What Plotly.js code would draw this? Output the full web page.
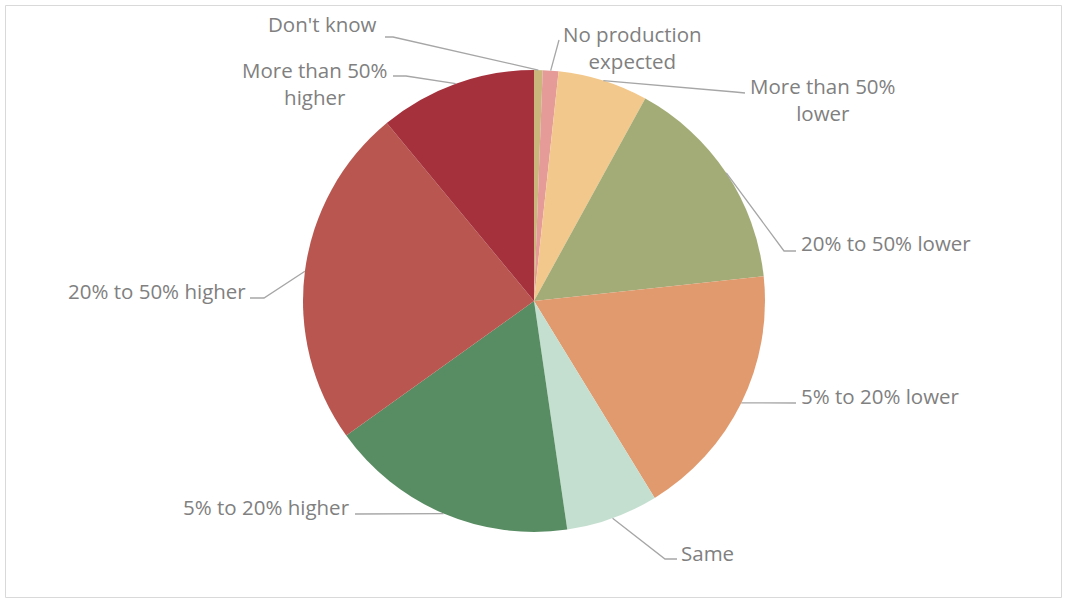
<!DOCTYPE html>
<html>
<head>
<meta charset="utf-8">
<script src="https://cdn.plot.ly/plotly-3.0.1.min.js"></script>
<style>html,body{margin:0;padding:0;background:#fff;}#chart{width:1065px;height:601px;}</style>
</head>
<body>
<div id="chart"></div>
<script>
// ---- data ----
const categories = ["Don't know", "No production expected", "More than 50% lower", "20% to 50% lower",
  "5% to 20% lower", "Same", "5% to 20% higher", "20% to 50% higher", "More than 50% higher"];
const values = [0.6, 1.1, 6.3, 15.3, 17.95, 6.45, 17.4, 23.9, 11.0];
const labelText = ["Don't know", "No production<br>expected", "More than 50%<br>lower", "20% to 50% lower",
  "5% to 20% lower", "Same", "5% to 20% higher", "20% to 50% higher", "More than 50%<br>higher"];

// ---- styles / layout (positions in pixels) ----
const colors = ["#C9B77C", "#E59C98", "#F3C88C", "#A3AB76", "#E19A6E", "#C4DFD0", "#588C62", "#B9564F", "#A5313D"];
const W = 1065, H = 601, cx = 534, cy = 301, R = 231;
// leader bends and label placement per slice
const leaderBend = [[393, 37], null, [735, 92], [784, 251], null, [665, 559], null, [264, 298], [406, 76]];
const leaderEnd = [[385, 37], [559, 40], [745, 93], [796, 251], [796, 403], [677, 559], [355, 514], [250, 298], [393, 76]];
const labelPos = [[379, 24, 'right'], [632, 47, 'center'], [823, 100, 'center'], [799, 243, 'left'],
  [799, 396, 'left'], [679, 553, 'left'], [352, 507, 'right'], [248, 291, 'right'], [315, 84, 'center']];

const fx = x => x / W, fy = y => 1 - y / H;
const total = values.reduce((a, b) => a + b, 0);

const shapes = [{
  type: 'rect', xref: 'paper', yref: 'paper', x0: fx(5.5), x1: fx(1061.5), y0: fy(5.5), y1: fy(597.5),
  line: {color: '#D9D9D9', width: 1}, fillcolor: 'rgba(0,0,0,0)'
}];
const annotations = [];
let cum = 0;
values.forEach((v, i) => {
  const mid = (cum + v / 2) / total * 2 * Math.PI;
  cum += v;
  const ax = cx + R * Math.sin(mid), ay = cy - R * Math.cos(mid);
  let path = `M ${fx(ax)},${fy(ay)}`;
  if (leaderBend[i]) path += ` L ${fx(leaderBend[i][0])},${fy(leaderBend[i][1])}`;
  path += ` L ${fx(leaderEnd[i][0])},${fy(leaderEnd[i][1])}`;
  shapes.push({type: 'path', xref: 'paper', yref: 'paper', path: path, line: {color: '#A6A6A6', width: 1.3}});
  annotations.push({
    xref: 'paper', yref: 'paper', x: fx(labelPos[i][0]), y: fy(labelPos[i][1]),
    xanchor: labelPos[i][2], yanchor: 'middle', align: 'center', showarrow: false,
    text: labelText[i], font: {family: 'Open Sans, sans-serif', size: 20.5, color: '#808080'}
  });
});

const trace = {
  type: 'pie', labels: categories, values: values, sort: false, direction: 'clockwise', rotation: 0,
  marker: {colors: colors, line: {width: 0}}, textinfo: 'none', hoverinfo: 'skip',
  domain: {x: [fx(cx - R), fx(cx + R)], y: [fy(cy + R), fy(cy - R)]}
};

Plotly.newPlot('chart', [trace], {
  width: W, height: H, margin: {l: 0, r: 0, t: 0, b: 0}, showlegend: false,
  paper_bgcolor: '#FFFFFF', shapes: shapes, annotations: annotations
}, {displayModeBar: false, staticPlot: true});
</script>
</body>
</html>
